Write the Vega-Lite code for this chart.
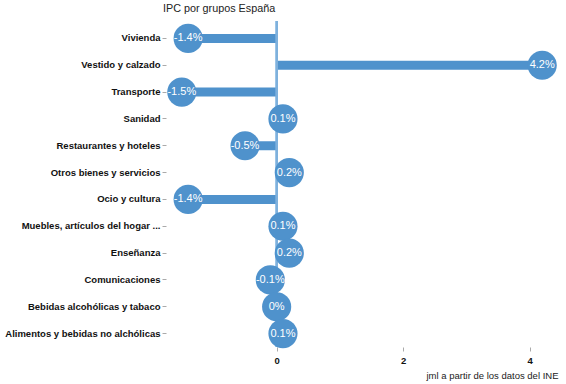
{
  "$schema": "https://vega.github.io/schema/vega-lite/v6.json",
  "autosize": "none",
  "width": 392,
  "height": 322,
  "padding": {"left": 166, "top": 25, "right": 8, "bottom": 37},
  "background": "white",
  "config": {
    "font": "Liberation Sans",
    "view": {"stroke": null}
  },
  "title": {
    "text": "IPC por grupos España",
    "anchor": "start",
    "frame": "group",
    "dx": -3,
    "offset": 6,
    "fontSize": 10.8,
    "fontWeight": "normal",
    "color": "#222222",
    "font": "Liberation Sans"
  },
  "data": {
    "values": [
      {"grupo": "Vivienda", "valor": -1.4, "etiqueta": "-1.4%"},
      {"grupo": "Vestido y calzado", "valor": 4.2, "etiqueta": "4.2%"},
      {"grupo": "Transporte", "valor": -1.5, "etiqueta": "-1.5%"},
      {"grupo": "Sanidad", "valor": 0.1, "etiqueta": "0.1%"},
      {"grupo": "Restaurantes y hoteles", "valor": -0.5, "etiqueta": "-0.5%"},
      {"grupo": "Otros bienes y servicios", "valor": 0.2, "etiqueta": "0.2%"},
      {"grupo": "Ocio y cultura", "valor": -1.4, "etiqueta": "-1.4%"},
      {"grupo": "Muebles, artículos del hogar ...", "valor": 0.1, "etiqueta": "0.1%"},
      {"grupo": "Enseñanza", "valor": 0.2, "etiqueta": "0.2%"},
      {"grupo": "Comunicaciones", "valor": -0.1, "etiqueta": "-0.1%"},
      {"grupo": "Bebidas alcohólicas y tabaco", "valor": 0, "etiqueta": "0%"},
      {"grupo": "Alimentos y bebidas no alchólicas", "valor": 0.1, "etiqueta": "0.1%"}
    ]
  },
  "encoding": {
    "y": {
      "field": "grupo",
      "type": "nominal",
      "sort": null,
      "scale": {"paddingInner": 0, "paddingOuter": 0},
      "axis": {
        "title": null,
        "domain": false,
        "tickSize": 4,
        "tickColor": "#aaaaaa",
        "labelPadding": 2,
        "labelFont": "Liberation Sans",
        "labelFontWeight": "bold",
        "labelFontSize": 9.5,
        "labelColor": "#111111",
        "labelLimit": 300
      }
    },
    "x": {
      "field": "valor",
      "type": "quantitative",
      "scale": {"domain": [-1.75, 4.45], "nice": false, "zero": false},
      "axis": {
        "title": "jml a partir de los datos del INE",
        "titleAnchor": "end",
        "titleAlign": "right",
        "titleFontWeight": "normal",
        "titleFontSize": 9.5,
        "titleColor": "#222222",
        "titlePadding": 6,
        "titleFont": "Liberation Sans",
        "values": [0, 2, 4],
        "format": "d",
        "domain": false,
        "grid": false,
        "tickSize": 4,
        "tickColor": "#aaaaaa",
        "labelFont": "Liberation Sans",
        "labelFontWeight": "bold",
        "labelFontSize": 9.5,
        "labelColor": "#111111",
        "labelPadding": 4
      }
    }
  },
  "layer": [
    {
      "mark": {"type": "bar", "color": "#4f92cc", "size": 9},
      "encoding": {"x2": {"datum": 0}}
    },
    {
      "mark": {"type": "rule", "color": "#7fb0dc", "strokeWidth": 1.5, "y": -4, "y2": {"expr": "height"}},
      "encoding": {"x": {"datum": 0}, "y": null}
    },
    {
      "mark": {"type": "circle", "color": "#4f92cc", "opacity": 1, "size": 850}
    },
    {
      "mark": {"type": "text", "color": "white", "fontSize": 11, "font": "Liberation Sans", "align": "center", "baseline": "middle"},
      "encoding": {"text": {"field": "etiqueta"}}
    }
  ]
}
